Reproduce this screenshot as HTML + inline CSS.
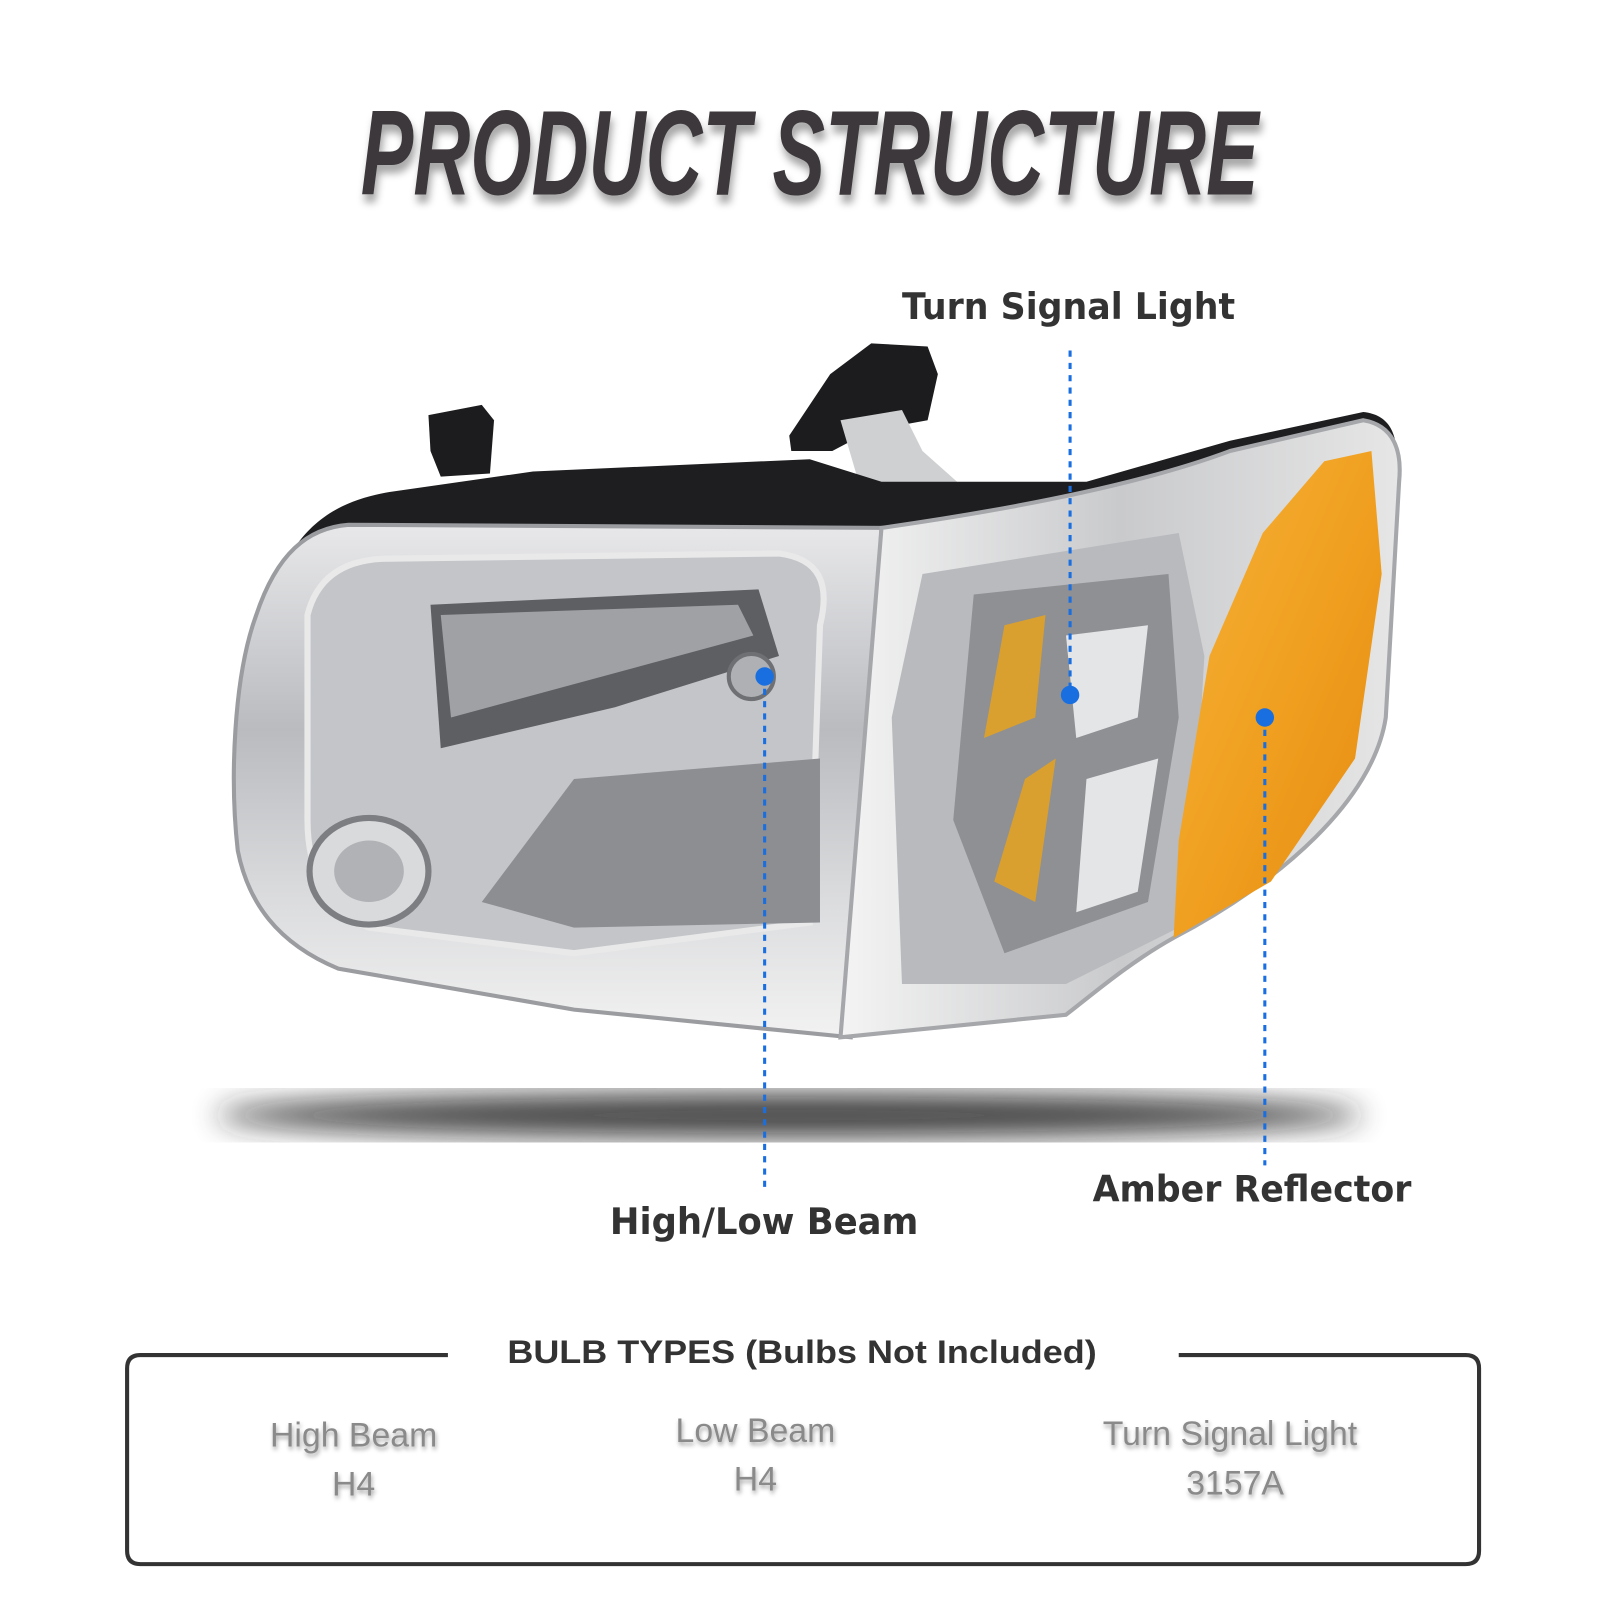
<!DOCTYPE html>
<html><head><meta charset="utf-8"><style>
html,body{margin:0;padding:0;background:#fff;}
svg{display:block;}
</style></head><body>
<svg width="1600" height="1600" viewBox="0 0 1561 1561" xmlns="http://www.w3.org/2000/svg">
<defs>
<filter id="ts" x="-10%" y="-10%" width="120%" height="140%"><feDropShadow dx="2" dy="8" stdDeviation="4" flood-color="#000" flood-opacity="0.35"/></filter>
<filter id="gs"><feDropShadow dx="1" dy="3" stdDeviation="2" flood-color="#000" flood-opacity="0.35"/></filter>
<filter id="blur"><feGaussianBlur stdDeviation="14"/></filter>
<linearGradient id="chrome" x1="0" y1="0" x2="0" y2="1">
<stop offset="0" stop-color="#e8e8ea"/><stop offset="0.4" stop-color="#b9bbbf"/><stop offset="0.7" stop-color="#d8d9db"/><stop offset="1" stop-color="#f2f2f2"/></linearGradient>
<linearGradient id="amber" x1="0" y1="0" x2="1" y2="1">
<stop offset="0" stop-color="#f6b23a"/><stop offset="0.5" stop-color="#f0a020"/><stop offset="1" stop-color="#e58a10"/></linearGradient>
<linearGradient id="turn" x1="0" y1="0" x2="1" y2="0">
<stop offset="0" stop-color="#f4f4f4"/><stop offset="0.5" stop-color="#c9cacc"/><stop offset="1" stop-color="#e6e6e6"/></linearGradient>
</defs>

<!-- Title -->
<text x="352" y="190" font-family="Liberation Sans, sans-serif" font-weight="bold" font-style="italic" font-size="118" fill="#3d393b" textLength="876" lengthAdjust="spacingAndGlyphs" filter="url(#ts)">PRODUCT STRUCTURE</text>

<!-- shadow under lamp -->
<ellipse cx="770" cy="1088" rx="560" ry="22" fill="#222" filter="url(#blur)" opacity="0.85"/>

<!-- brackets -->
<path d="M418,405 L470,395 L482,410 L478,462 L430,465 L420,440 Z" fill="#1c1c1e"/>
<path d="M810,365 L850,335 L905,338 L915,365 L905,410 L850,420 L812,440 L772,440 L770,425 Z" fill="#1c1c1e"/>
<path d="M820,410 L880,400 L900,440 L945,480 L880,500 L845,495 Z" fill="#cfd0d2"/>
<!-- black backing -->
<path d="M260,600 C280,520 320,490 380,480 L520,460 L790,448 L860,470 L940,470 L1060,470 L1200,430 L1330,402 C1360,405 1365,430 1362,460 L1200,470 L860,515 L330,515 Z" fill="#1e1e20"/>

<!-- left lens housing -->
<path d="M250,600 C270,540 300,515 340,512 L860,515 L830,1012 L560,985 L330,945 C270,920 242,880 232,830 C224,760 228,660 250,600 Z" fill="url(#chrome)" stroke="#9a9ca0" stroke-width="4"/>
<path d="M300,600 C310,560 340,545 380,545 L760,540 C800,545 810,570 800,610 L790,900 L560,930 L360,905 C320,890 300,850 300,800 Z" fill="#c3c5c8" stroke="#e9e9ea" stroke-width="6"/>
<path d="M420,590 L740,575 L760,640 L600,690 L430,730 Z" fill="#5d5f63"/>
<path d="M430,600 L720,590 L735,620 L440,700 Z" fill="#9fa1a5"/>
<path d="M560,760 L800,740 L800,900 L560,905 L470,880 Z" fill="#8c8e92"/>
<ellipse cx="360" cy="850" rx="58" ry="52" fill="#d9dadc" stroke="#7c7e82" stroke-width="6"/>
<ellipse cx="360" cy="850" rx="34" ry="30" fill="#b0b2b5"/>
<circle cx="733" cy="660" r="22" fill="#aeb0b3" stroke="#6e7074" stroke-width="4"/>

<!-- turn signal section -->
<path d="M860,515 C1000,495 1120,470 1200,440 L1330,410 C1360,415 1368,440 1365,470 L1352,700 C1340,780 1250,860 1145,915 C1100,940 1060,975 1040,990 L820,1012 Z" fill="url(#turn)" stroke="#a5a7aa" stroke-width="4"/>
<path d="M900,560 L1150,520 L1175,640 L1160,900 L1040,960 L880,960 L870,700 Z" fill="#b8babd"/>
<path d="M950,580 L1140,560 L1150,700 L1120,880 L980,930 L930,800 Z" fill="#8e9094"/>
<path d="M980,610 L1020,600 L1010,700 L960,720 Z M1000,760 L1030,740 L1010,880 L970,860 Z" fill="#d9a030"/>
<path d="M1040,620 L1120,610 L1110,700 L1050,720 Z M1060,760 L1130,740 L1110,870 L1050,890 Z" fill="#e4e5e6"/>
<!-- amber reflector -->
<path d="M1292,450 L1338,440 L1348,560 L1322,740 L1240,860 L1145,915 L1150,820 L1180,640 L1232,520 Z" fill="url(#amber)"/>

<!-- connectors -->
<g stroke="#1a6fe0" stroke-width="3" stroke-dasharray="6,6" fill="none">
<line x1="1044" y1="342" x2="1044" y2="678"/>
<line x1="746" y1="660" x2="746" y2="1162"/>
<line x1="1234" y1="700" x2="1234" y2="1137"/>
</g>
<g fill="#1a6fe0">
<circle cx="1044" cy="678" r="9"/><circle cx="746" cy="660" r="9"/><circle cx="1234" cy="700" r="9"/>
</g>

<!-- labels -->
<g font-family="DejaVu Sans, Liberation Sans, sans-serif" font-weight="bold" font-size="36" fill="#333">
<text x="880" y="311" textLength="325" lengthAdjust="spacingAndGlyphs">Turn Signal Light</text>
<text x="595" y="1204" textLength="301" lengthAdjust="spacingAndGlyphs">High/Low Beam</text>
<text x="1066" y="1172" textLength="311" lengthAdjust="spacingAndGlyphs">Amber Reflector</text>
</g>

<!-- bulb box -->
<path d="M437,1322 L137,1322 Q124,1322 124,1335 L124,1513 Q124,1526 137,1526 L1430,1526 Q1443,1526 1443,1513 L1443,1335 Q1443,1322 1430,1322 L1150,1322" fill="none" stroke="#333" stroke-width="4"/>
<text x="495" y="1330" font-family="Liberation Sans, sans-serif" font-weight="bold" font-size="32" fill="#333" textLength="575" lengthAdjust="spacingAndGlyphs">BULB TYPES (Bulbs Not Included)</text>
<g font-family="Liberation Sans, sans-serif" font-size="33" fill="#8a8a8a" text-anchor="middle" filter="url(#gs)">
<text x="345" y="1411">High Beam</text>
<text x="345" y="1459">H4</text>
<text x="737" y="1407">Low Beam</text>
<text x="737" y="1454">H4</text>
<text x="1200" y="1410">Turn Signal Light</text>
<text x="1205" y="1458">3157A</text>
</g>
</svg>
</body></html>
